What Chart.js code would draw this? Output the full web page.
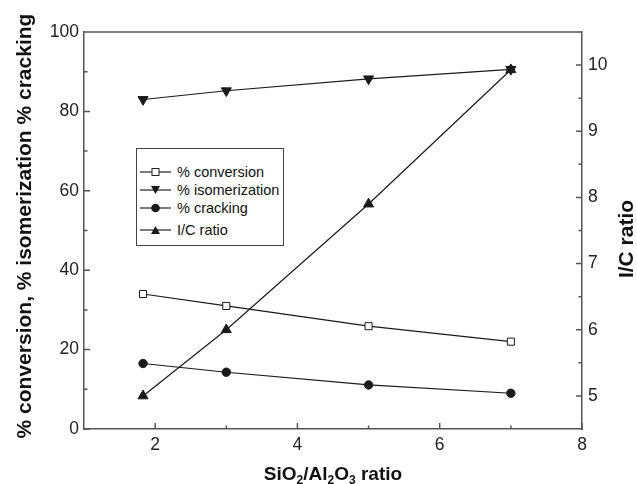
<!DOCTYPE html>
<html>
<head>
<meta charset="utf-8">
<script src="https://cdn.jsdelivr.net/npm/chart.js@4"></script>
<style>
  html, body { margin: 0; padding: 0; background: #fff; }
  #wrap { position: relative; width: 637px; height: 484px; }
  #legend {
    position: absolute; left: 136px; top: 148px; width: 146px; height: 96px;
    border: 1px solid #444; background: #fff;
    font-family: "Liberation Sans", Arial, sans-serif; font-size: 14.5px; color: #111;
  }
  #legend .item { position: absolute; left: 3px; height: 16px; display: flex; align-items: center; }
  #legend svg { margin-right: 5px; }
</style>
</head>
<body>
<div id="wrap">
  <canvas id="chart" width="637" height="484"></canvas>
  <div id="legend"></div>
</div>
<script>
/* SiO2/Al2O3 ratio vs conversion / isomerization / cracking and I/C ratio */

const ratios = [1.83, 3, 5, 7];
const conversion = [34.0, 31.0, 25.9, 22.0];
const isomerization = [83.0, 85.2, 88.2, 90.6];
const cracking = [16.5, 14.3, 11.1, 9.0];
const icRatio = [5.0, 6.0, 7.9, 9.93];

const xTicks = [2, 4, 6, 8];
const xMinor = [3, 5, 7];
const leftTicks = [0, 20, 40, 60, 80, 100];
const leftMinor = [10, 30, 50, 70, 90];
const rightTicks = [5, 6, 7, 8, 9, 10];
const rightMinor = [5.5, 6.5, 7.5, 8.5, 9.5];

const seriesNames = ['% conversion', '% isomerization', '% cracking', 'I/C ratio'];

const INK = '#1a1a1a';
const AXIS = '#555';
const FONT = '"Liberation Sans", Arial, sans-serif';

const toPoints = (ys) => ratios.map((x, i) => ({ x: x, y: ys[i] }));

const setTicks = (values) => (scale) => {
  scale.ticks = values.map(v => ({ value: v }));
};

// ticks inside the frame, top border and the axis titles
const framePlugin = {
  id: 'frame',
  afterDraw(chart) {
    const ctx = chart.ctx;
    const a = chart.chartArea;
    const sx = chart.scales.x, yl = chart.scales.y, yr = chart.scales.y2;
    ctx.save();
    ctx.strokeStyle = AXIS;
    ctx.lineWidth = 1.5;
    ctx.beginPath();
    ctx.moveTo(a.left, a.top); ctx.lineTo(a.right, a.top);
    const tick = (x1, y1, x2, y2) => { ctx.moveTo(x1, y1); ctx.lineTo(x2, y2); };
    xTicks.forEach(v => { const p = sx.getPixelForValue(v); tick(p, a.bottom, p, a.bottom - 6); });
    xMinor.forEach(v => { const p = sx.getPixelForValue(v); tick(p, a.bottom, p, a.bottom - 3.5); });
    leftTicks.forEach(v => { const p = yl.getPixelForValue(v); tick(a.left, p, a.left + 6, p); });
    leftMinor.forEach(v => { const p = yl.getPixelForValue(v); tick(a.left, p, a.left + 3.5, p); });
    rightTicks.forEach(v => { const p = yr.getPixelForValue(v); tick(a.right, p, a.right - 6, p); });
    rightMinor.forEach(v => { const p = yr.getPixelForValue(v); tick(a.right, p, a.right - 3.5, p); });
    ctx.stroke();

    ctx.fillStyle = '#111';
    ctx.textBaseline = 'middle';
    ctx.textAlign = 'center';
    ctx.font = 'bold 21px ' + FONT;
    ctx.save();
    ctx.translate(25, 226);
    ctx.rotate(-Math.PI / 2);
    ctx.fillText('% conversion, % isomerization % cracking', 0, 0);
    ctx.restore();
    ctx.save();
    ctx.translate(627, 239);
    ctx.rotate(-Math.PI / 2);
    ctx.fillText('I/C ratio', 0, 0);
    ctx.restore();

    // x title with subscripts
    const parts = [['SiO', false], ['2', true], ['/Al', false], ['2', true], ['O', false], ['3', true], [' ratio', false]];
    const big = 'bold 19px ' + FONT, small = 'bold 12px ' + FONT;
    let total = 0;
    parts.forEach(([t, sub]) => { ctx.font = sub ? small : big; total += ctx.measureText(t).width; });
    let x = (a.left + a.right) / 2 - total / 2;
    ctx.textAlign = 'left';
    ctx.textBaseline = 'alphabetic';
    parts.forEach(([t, sub]) => {
      ctx.font = sub ? small : big;
      ctx.fillText(t, x, sub ? 484 : 480);
      x += ctx.measureText(t).width;
    });
    ctx.restore();
  }
};

const base = {
  borderColor: INK,
  backgroundColor: INK,
  pointBorderColor: INK,
  borderWidth: 1.2,
  pointBorderWidth: 1,
  tension: 0,
  fill: false
};

new Chart(document.getElementById('chart'), {
  type: 'line',
  data: {
    datasets: [
      Object.assign({}, base, { label: seriesNames[0], data: toPoints(conversion), yAxisID: 'y',
        pointStyle: 'rect', pointRadius: 5, pointBackgroundColor: '#fff' }),
      Object.assign({}, base, { label: seriesNames[1], data: toPoints(isomerization), yAxisID: 'y',
        pointStyle: 'triangle', pointRotation: 180, pointRadius: 5.8, pointBackgroundColor: INK }),
      Object.assign({}, base, { label: seriesNames[2], data: toPoints(cracking), yAxisID: 'y',
        pointStyle: 'circle', pointRadius: 4.2, pointBackgroundColor: INK }),
      Object.assign({}, base, { label: seriesNames[3], data: toPoints(icRatio), yAxisID: 'y2',
        pointStyle: 'triangle', pointRadius: 5.8, pointBackgroundColor: INK })
    ]
  },
  options: {
    responsive: false,
    animation: false,
    layout: { padding: { top: 32, left: 0, right: 0, bottom: 0 } },
    plugins: { legend: { display: false }, tooltip: { enabled: false } },
    scales: {
      x: {
        type: 'linear', min: 1, max: 8,
        afterBuildTicks: setTicks(xTicks),
        afterFit: (s) => { s.height = 55; },
        grid: { display: false, drawTicks: false },
        border: { display: true, color: AXIS, width: 1.5 },
        ticks: { color: '#222', font: { family: FONT, size: 17.5 }, padding: 6 }
      },
      y: {
        type: 'linear', position: 'left', min: 0, max: 100,
        afterBuildTicks: setTicks(leftTicks),
        afterFit: (s) => { s.width = 84; },
        grid: { display: false, drawTicks: false },
        border: { display: true, color: AXIS, width: 1.5 },
        ticks: { color: '#222', font: { family: FONT, size: 17.5 }, padding: 5 }
      },
      y2: {
        type: 'linear', position: 'right', min: 4.5, max: 10.5,
        afterBuildTicks: setTicks(rightTicks),
        afterFit: (s) => { s.width = 55; },
        grid: { display: false, drawTicks: false },
        border: { display: true, color: AXIS, width: 1.5 },
        ticks: { color: '#222', font: { family: FONT, size: 17.5 }, padding: 6 }
      }
    }
  },
  plugins: [framePlugin]
});

// legend box: line + marker + label
const icons = [
  '<rect x="12" y="4.5" width="7" height="7" fill="#fff" stroke="#222" stroke-width="1"/>',
  '<polygon points="11,4 20,4 15.5,12" fill="#1a1a1a"/>',
  '<circle cx="15.5" cy="8" r="4.3" fill="#1a1a1a"/>',
  '<polygon points="11,12 20,12 15.5,4" fill="#1a1a1a"/>'
];
const itemTops = [15, 33, 51, 73];
const legendEl = document.getElementById('legend');
legendEl.innerHTML = seriesNames.map((name, i) => `
  <div class="item" style="top:${itemTops[i]}px">
    <svg width="32" height="16" viewBox="0 0 32 16">
      <line x1="0" y1="8" x2="31" y2="8" stroke="#222" stroke-width="1.2"/>
      ${icons[i]}
    </svg>
    <span>${name}</span>
  </div>
`).join('');
</script>
</body>
</html>
